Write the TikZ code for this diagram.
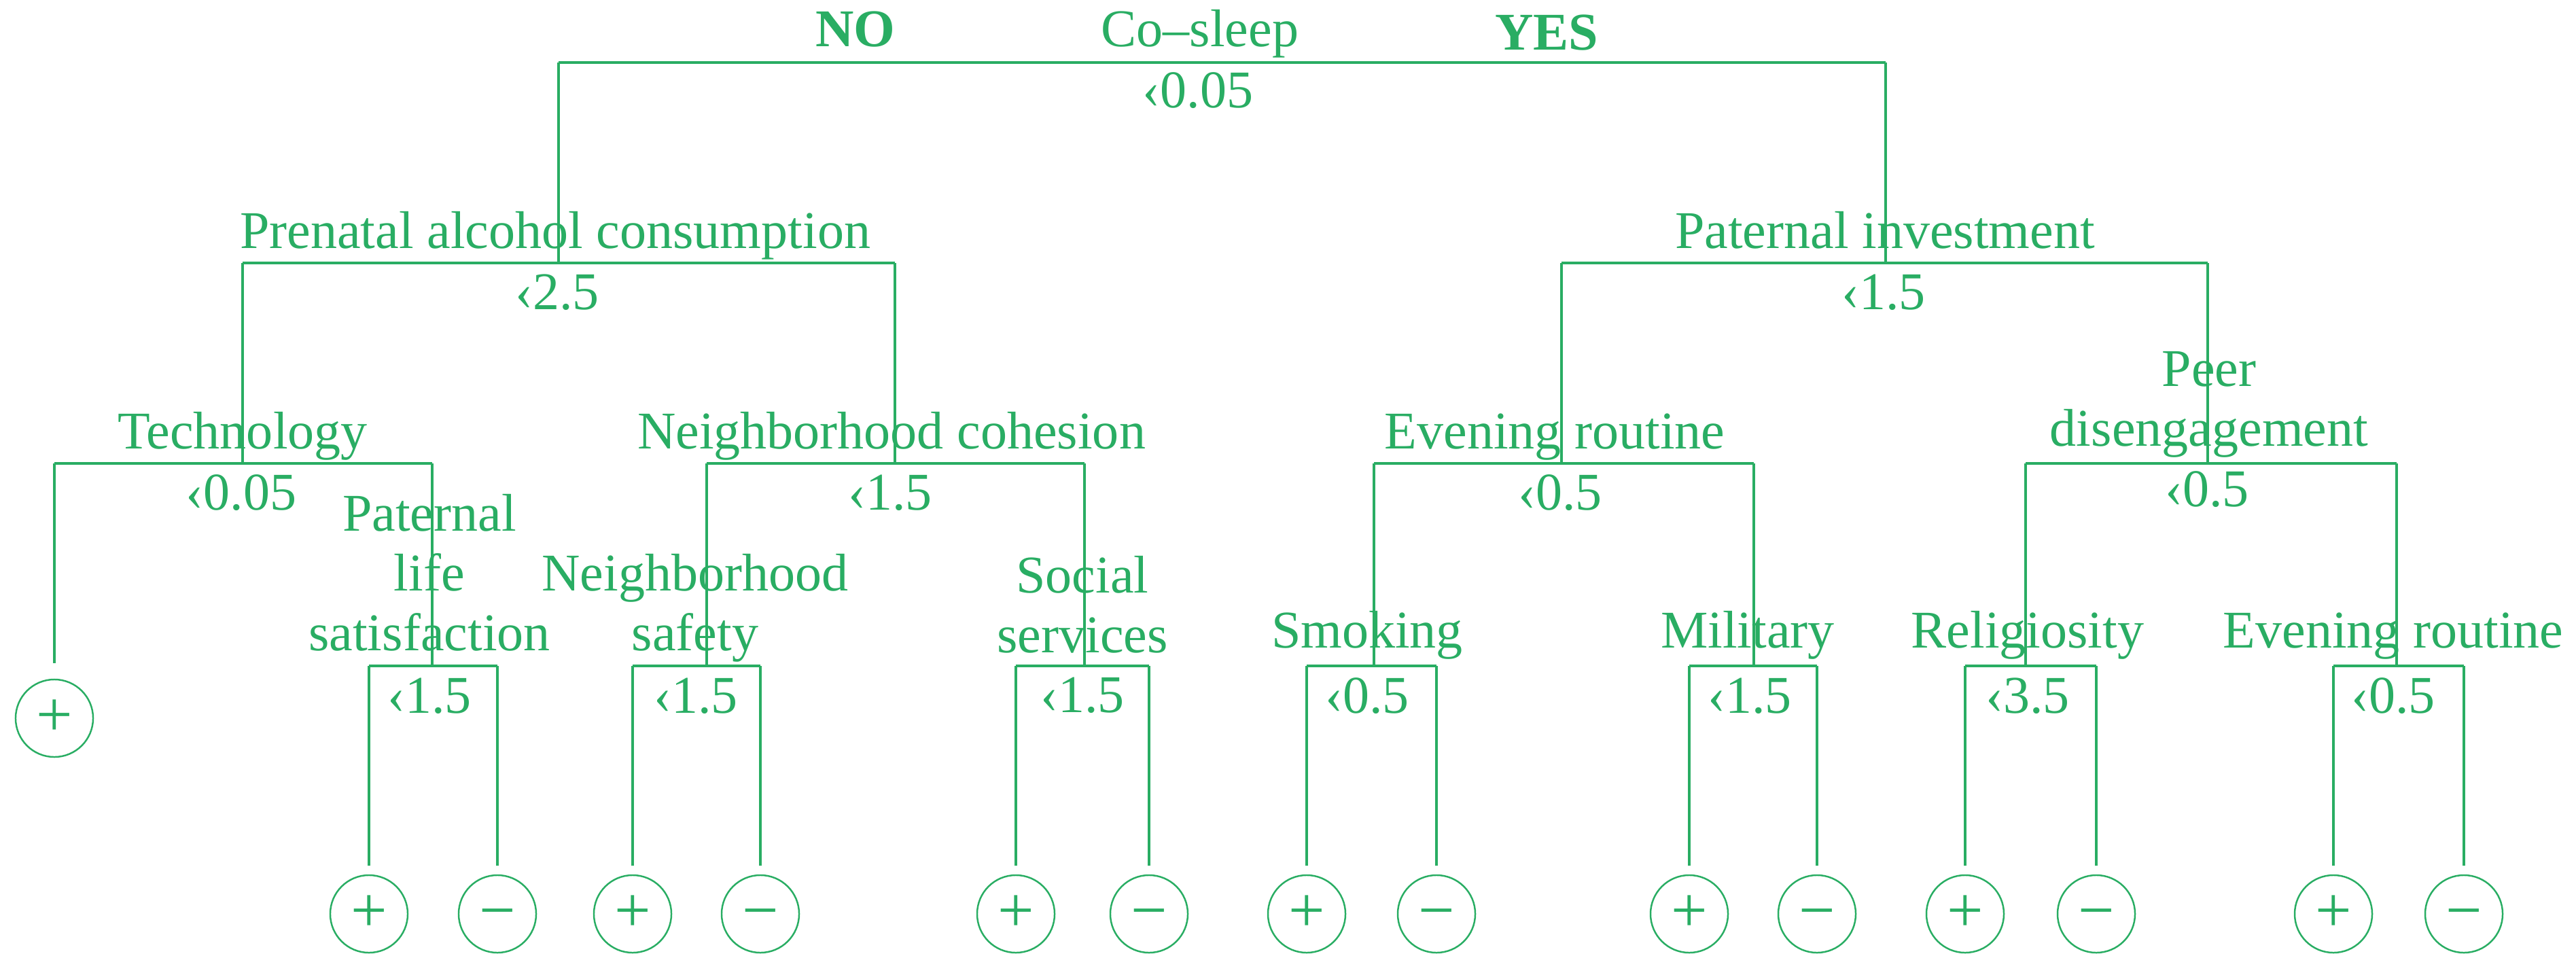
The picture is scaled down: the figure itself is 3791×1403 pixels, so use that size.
\documentclass[tikz,border=0pt]{standalone}
\usepackage{fontspec}
\setmainfont{Liberation Serif}
\definecolor{treegreen}{RGB}{41,173,99}
\begin{document}
\begin{tikzpicture}[x=0.01cm,y=-0.01cm,
    every node/.style={text=treegreen,inner sep=0pt,font=\fontsize{22.2}{25}\selectfont},
    split/.style={anchor=base,align=center},
    thr/.style={anchor=base},
    bar/.style={draw=treegreen,line width=0.9pt},
    leaf/.style={circle,draw=treegreen,line width=0.7pt,minimum size=1.14cm,font=\fontsize{27}{27}\selectfont},
    stem/.style={bar,shorten >=0.13cm}]
\useasboundingbox (0,0) rectangle (3791,1403);

% root: co-sleep
\node[split] (co-t) at (1766,68) {Co–sleep};
\node[split] (no) at (1259,68) {\textbf{NO}};
\node[split] (yes) at (2276,73) {\textbf{YES}};
\node[thr] (co-c) at (1763,158) {‹0.05};
\coordinate (co-l) at (822,92);
\coordinate (co-r) at (2775,92);

% level 1
\node[split] (pac-t) at (817,365) {Prenatal alcohol consumption};
\node[thr] (pac-c) at (820,455) {‹2.5};
\coordinate (pac) at (822,387);
\coordinate (pac-l) at (357,387);
\coordinate (pac-r) at (1317,387);
\node[split] (pin-t) at (2774,365) {Paternal investment};
\node[thr] (pin-c) at (2772,455) {‹1.5};
\coordinate (pin) at (2775,387);
\coordinate (pin-l) at (2298,387);
\coordinate (pin-r) at (3249,387);

% level 2
\node[split] (tec-t) at (357,660) {Technology};
\node[thr] (tec-c) at (355,750) {‹0.05};
\coordinate (tec) at (357,682);
\coordinate (tec-l) at (80,682);
\coordinate (tec-r) at (636,682);
\node[split] (nbc-t) at (1312,660) {Neighborhood cohesion};
\node[thr] (nbc-c) at (1310,750) {‹1.5};
\coordinate (nbc) at (1317,682);
\coordinate (nbc-l) at (1040,682);
\coordinate (nbc-r) at (1596,682);
\node[split] (evr-t) at (2288,660) {Evening routine};
\node[thr] (evr-c) at (2296,750) {‹0.5};
\coordinate (evr) at (2298,682);
\coordinate (evr-l) at (2022,682);
\coordinate (evr-r) at (2581,682);
\node[split] (ped-t) at (3251,656) {Peer\\disengagement};
\node[thr] (ped-c) at (3248,745) {‹0.5};
\coordinate (ped) at (3249,682);
\coordinate (ped-l) at (2981,682);
\coordinate (ped-r) at (3527,682);

% level 3
\node[split] (pls-t) at (632,957) {Paternal\\life\\satisfaction};
\node[thr] (pls-c) at (632,1049) {‹1.5};
\coordinate (pls) at (636,980);
\coordinate (pls-l) at (543,980);
\coordinate (pls-r) at (732,980);
\node[split] (nbs-t) at (1023,957) {Neighborhood\\safety};
\node[thr] (nbs-c) at (1024,1049) {‹1.5};
\coordinate (nbs) at (1040,980);
\coordinate (nbs-l) at (931,980);
\coordinate (nbs-r) at (1119,980);
\node[split] (sos-t) at (1593,960) {Social\\services};
\node[thr] (sos-c) at (1593,1048) {‹1.5};
\coordinate (sos) at (1596,980);
\coordinate (sos-l) at (1495,980);
\coordinate (sos-r) at (1691,980);
\node[split] (smk-t) at (2012,953) {Smoking};
\node[thr] (smk-c) at (2012,1049) {‹0.5};
\coordinate (smk) at (2022,980);
\coordinate (smk-l) at (1923,980);
\coordinate (smk-r) at (2114,980);
\node[split] (mil-t) at (2572,953) {Military};
\node[thr] (mil-c) at (2575,1049) {‹1.5};
\coordinate (mil) at (2581,980);
\coordinate (mil-l) at (2486,980);
\coordinate (mil-r) at (2674,980);
\node[split] (rel-t) at (2984,953) {Religiosity};
\node[thr] (rel-c) at (2984,1049) {‹3.5};
\coordinate (rel) at (2981,980);
\coordinate (rel-l) at (2892,980);
\coordinate (rel-r) at (3085,980);
\node[split] (ev2-t) at (3522,953) {Evening routine};
\node[thr] (ev2-c) at (3522,1049) {‹0.5};
\coordinate (ev2) at (3527,980);
\coordinate (ev2-l) at (3434,980);
\coordinate (ev2-r) at (3626,980);

% bars and branches
\draw[bar] (co-l) -- (co-r);
\draw[bar] (co-l) -- (pac);
\draw[bar] (co-r) -- (pin);
\draw[bar] (pac-l) -- (pac-r);
\draw[bar] (pin-l) -- (pin-r);
\draw[bar] (pac-l) -- (tec);
\draw[bar] (pac-r) -- (nbc);
\draw[bar] (pin-l) -- (evr);
\draw[bar] (pin-r) -- (ped);
\draw[bar] (tec-l) -- (tec-r);
\draw[bar] (nbc-l) -- (nbc-r);
\draw[bar] (evr-l) -- (evr-r);
\draw[bar] (ped-l) -- (ped-r);
\draw[bar] (tec-r) -- (pls);
\draw[bar] (nbc-l) -- (nbs);
\draw[bar] (nbc-r) -- (sos);
\draw[bar] (evr-l) -- (smk);
\draw[bar] (evr-r) -- (mil);
\draw[bar] (ped-l) -- (rel);
\draw[bar] (ped-r) -- (ev2);

% leaves
\node[leaf] (tec-plus) at (80,1057) {+};
\draw[bar,shorten >=0.23cm] (tec-l) -- (tec-plus);
\foreach \s in {pls,nbs,sos,smk,mil,rel,ev2} {
  \draw[bar] (\s-l) -- (\s-r);
  \path (\s-l) ++(0,365) node[leaf] (\s-plus) {+};
  \path (\s-r) ++(0,365) node[leaf] (\s-minus) {\vphantom{+}−};
  \draw[stem] (\s-l) -- (\s-plus);
  \draw[stem] (\s-r) -- (\s-minus);
}
\end{tikzpicture}
\end{document}
